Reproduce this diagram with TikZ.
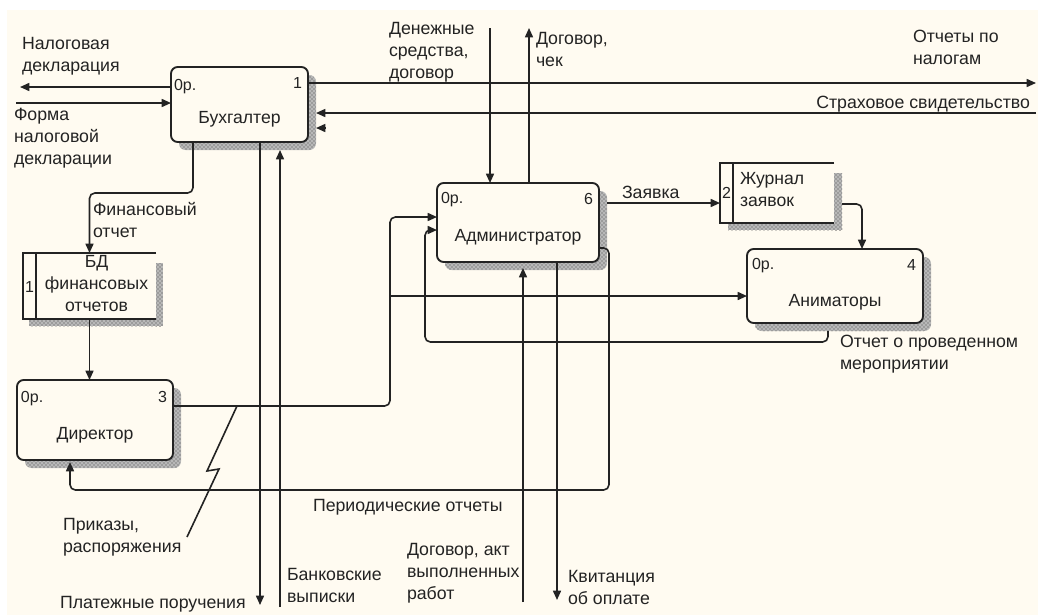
\documentclass[tikz,border=0pt]{standalone}
\usepackage{fontspec}
\setmainfont{Liberation Sans}
\usetikzlibrary{arrows.meta,calc,patterns,backgrounds}
\definecolor{paper}{RGB}{255,251,241}
\definecolor{ink}{RGB}{35,35,35}
\begin{document}
\begin{tikzpicture}[x=0.75pt,y=-0.75pt,
  every node/.style={inner sep=0pt,outer sep=0pt,text=ink},
  lbl/.style={font=\fontsize{13.3}{16.5}\selectfont,align=left,anchor=north west,execute at begin node=\strut},
  title/.style={font=\fontsize{13.2}{16.5}\selectfont},
  tag/.style={font=\fontsize{12}{14}\selectfont},
  proc/.style 2 args={draw=ink,line width=1.4pt,rounded corners=5pt,fill=paper,
    minimum width=#1*0.75pt,minimum height=#2*0.75pt},
  store/.style 2 args={minimum width=#1*0.75pt,minimum height=#2*0.75pt},
  edge/.style={draw=ink,line width=1.2pt},
  shade/.style={fill=black!28,postaction={pattern=crosshatch dots,pattern color=black!75}},
  flow/.style={draw=ink,line width=1.2pt,rounded corners=4pt,-{Triangle[length=7pt,width=6pt]}},
  bolt/.style={draw=ink,line width=1.2pt}]
\useasboundingbox (0,0) rectangle (1038,615);

% process boxes
\node[proc={137}{75}] (buh) at (239.5,104.5) {};
\node[proc={162}{79}] (adm) at (518,222.5) {};
\node[proc={176}{74}] (ani) at (835,286) {};
\node[proc={156}{80}] (dir) at (95,420) {};

\node[title] (buhT) at ($(buh.center)+(0,15)$) {Бухгалтер};
\node[title] (admT) at ($(adm.center)+(0,15)$) {Администратор};
\node[title] (aniT) at ($(ani.center)+(0,16)$) {Аниматоры};
\node[title] (dirT) at ($(dir.center)+(0,15)$) {Директор};

\node[tag,anchor=west] (buhA) at ($(buh.north west)+(3,20)$) {0р.};
\node[tag,anchor=east] (buhB) at ($(buh.north east)+(-6,16)$) {1};
\node[tag,anchor=west] (admA) at ($(adm.north west)+(4,17)$) {0р.};
\node[tag,anchor=east] (admB) at ($(adm.north east)+(-6,16)$) {6};
\node[tag,anchor=west] (aniA) at ($(ani.north west)+(5,17)$) {0р.};
\node[tag,anchor=east] (aniB) at ($(ani.north east)+(-7,16)$) {4};
\node[tag,anchor=west] (dirA) at ($(dir.north west)+(4,19)$) {0р.};
\node[tag,anchor=east] (dirB) at ($(dir.north east)+(-6,17)$) {3};

% data stores
\node[store={133}{66}] (bd) at (89.5,286) {};
\draw[edge] (bd.north east) -- (bd.north west) -- (bd.south west) -- (bd.south east);
\draw[edge] ($(bd.north west)+(13,0)$) -- ($(bd.south west)+(13,0)$);
\node[tag] (bdN) at ($(bd.west)+(6.5,1)$) {1};
\node[title,align=center,anchor=north,execute at begin node=\strut] (bdT) at ($(bd.north)+(7,2.6)$) {БД\\финансовых\\отчетов};

\node[store={114}{60}] (jr) at (777,193) {};
\draw[edge] (jr.north east) -- (jr.north west) -- (jr.south west) -- (jr.south east);
\draw[edge] ($(jr.north west)+(13,0)$) -- ($(jr.south west)+(13,0)$);
\node[tag] (jrN) at ($(jr.west)+(6.5,0)$) {2};
\node[lbl,font=\fontsize{13.2}{16.5}\selectfont] (jrT) at ($(jr.north west)+(20,9.6)$) {Журнал\\заявок};

% free ends of the external flows
\coordinate (nal) at (20,87);
\coordinate (forma) at (16,103);
\coordinate (otch) at (1036,83);
\coordinate (strah) at (1036,113);
\coordinate (plat) at (260,605);
\coordinate (bank) at (280,607);
\coordinate (den) at (490,28);
\coordinate (dog) at (529,28);
\coordinate (akt) at (523,602);
\coordinate (kvit) at (557,600);

% flows of the accountant
\draw[flow] (buh.west |- nal) -- (nal);
\draw[flow] (forma) -- (buh.west |- forma);
\draw[flow] (buh.east |- otch) -- (otch);
\draw[flow] (strah) -- ($(buh.east |- strah)+(8,0)$);
\draw[flow] ($(buh.east)+(17,23.5)$) -- ($(buh.east)+(8,23.5)$);
\draw[flow] ($(buh.south west)+(22,0)$) |- ($(bd.north)+(0,-60)$) -- (bd.north);
\draw[flow] ($(buh.south west)+(89,0)$) -- (plat);
\draw[flow] (bank) -- ($(buh.south west)+(109,8)$);

% director
\draw[flow] (bd.south) -- (bd.south |- dir.north);
\draw[flow] ($(dir.east)+(0,-14)$) -| ($(adm.west)+(-47,-5.5)$) -- ($(adm.west)+(0,-5.5)$);
\draw[flow] ($(ani.west)+(-357,10)$) -- ($(ani.west)+(0,10)$);
\draw[bolt] (237,406) -- (207,471) -- (219,469) -- (187,537);

% administrator
\draw[flow] (den) -- (den |- adm.north);
\draw[flow] (dog |- adm.north) -- (dog);
\draw[flow] ($(adm.east)+(8,-19.5)$) -- ($(jr.west)+(0,10)$);
\draw[flow] ($(jr.east)+(8,11)$) -| ($(ani.north west)+(115,0)$);
\draw[flow] ($(ani.south west)+(81,8)$) |- ($(adm.west)+(-12,119.5)$) |- ($(adm.west)+(0,7.5)$);
\draw[flow] (akt) -- ($(adm.south west)+(86,6)$);
\draw[flow] ($(adm.south west)+(120,0)$) -- (kvit);
\draw[flow] ($(adm.east)+(0,25.5)$) -- ++(10,0) |- ($(dir.south)+(-25,30)$) -- ($(dir.south)+(-25,2)$);

% flow labels
\node[lbl] (l1) at (22,37.6) {Налоговая\\декларация};
\node[lbl] (l2) at (14,108.6) {Форма\\налоговой\\декларации};
\node[lbl] (l3) at (93,202.6) {Финансовый\\отчет};
\node[lbl] (l4) at (389,22.6) {Денежные\\средства,\\договор};
\node[lbl] (l5) at (536,32.6) {Договор,\\чек};
\node[lbl] (l6) at (913,30.6) {Отчеты по\\налогам};
\node[lbl,anchor=north east] (l7) at (1030,92.6) {Страховое свидетельство};
\node[lbl] (l8) at (622,182.6) {Заявка};
\node[lbl] (l9) at (840,335.6) {Отчет о проведенном\\мероприятии};
\node[lbl] (l10) at (313,495.6) {Периодические отчеты};
\node[lbl] (l11) at (63,518.6) {Приказы,\\распоряжения};
\node[lbl] (l12) at (60,592.6) {Платежные поручения};
\node[lbl] (l13) at (287,568.6) {Банковские\\выписки};
\node[lbl] (l14) at (407,543.6) {Договор, акт\\выполненных\\работ};
\node[lbl] (l15) at (568,570.6) {Квитанция\\об оплате};

% paper and drop shadows
\begin{scope}[on background layer]
  \fill[white] (0,0) rectangle (1038,615);
  \fill[paper] (7,10) rectangle (1038,615);
  \foreach \b in {buh,adm,ani,dir}
    \path[shade,rounded corners=5pt] ($(\b.north west)+(8,8)$) rectangle ($(\b.south east)+(8,8)$);
  \path[shade] ($(bd.north east)+(0,10)$) rectangle ($(bd.south east)+(7,7)$);
  \path[shade] ($(bd.south west)+(6,0)$) rectangle ($(bd.south east)+(7,7)$);
  \path[shade] ($(jr.north east)+(0,10)$) rectangle ($(jr.south east)+(8,7)$);
  \path[shade] ($(jr.south west)+(8,0)$) rectangle ($(jr.south east)+(8,7)$);
  \fill[paper] (bd.north west) rectangle (bd.south east);
  \fill[paper] (jr.north west) rectangle (jr.south east);
\end{scope}
\end{tikzpicture}
\end{document}
